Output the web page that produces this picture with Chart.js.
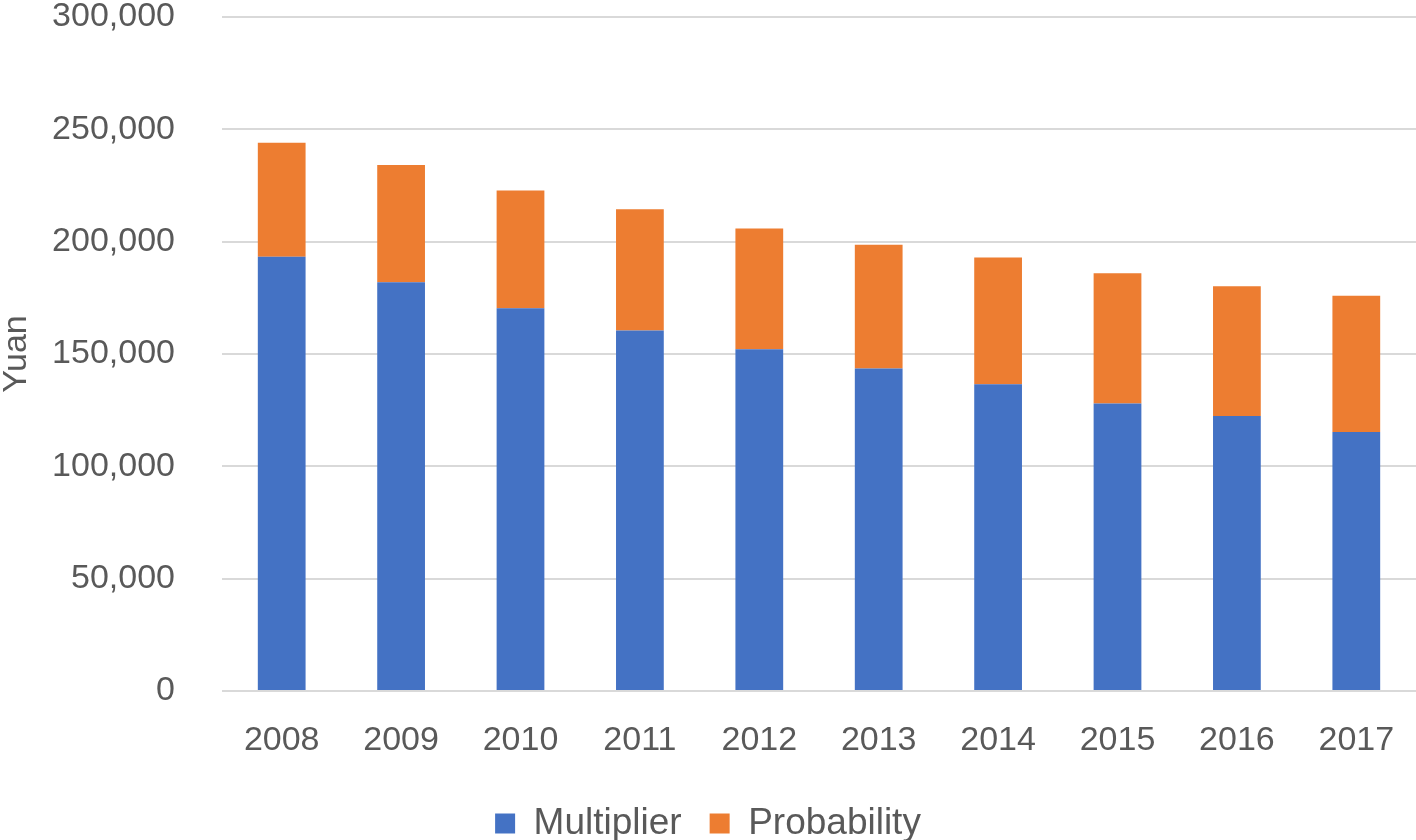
<!DOCTYPE html>
<html>
<head>
<meta charset="utf-8">
<script src="https://cdn.jsdelivr.net/npm/chart.js@4/dist/chart.umd.min.js"></script>
<style>
  html, body { margin: 0; padding: 0; background: #ffffff; }
  #wrap { width: 1416px; height: 840px; position: relative; }
</style>
</head>
<body>
<div id="wrap"><canvas id="c"></canvas></div>
<script>
const years = ['2008', '2009', '2010', '2011', '2012', '2013', '2014', '2015', '2016', '2017'];
const multiplier = [193300, 181900, 170400, 160500, 152100, 143600, 136500, 128000, 122400, 115300];
const probability = [50700, 52200, 52400, 53900, 53800, 55000, 56500, 57900, 57800, 60600];
const seriesNames = ['Multiplier', 'Probability'];
const yMin = 0, yMax = 300000, yStep = 50000;
const axisTitle = 'Yuan';

const textColor = '#595959';
const fontFamily = "'Liberation Sans', Arial, sans-serif";

new Chart(document.getElementById('c'), {
  type: 'bar',
  data: {
    labels: years,
    datasets: [
      { label: seriesNames[0], data: multiplier, backgroundColor: '#4472C4', borderWidth: 0 },
      { label: seriesNames[1], data: probability, backgroundColor: '#ED7D31', borderWidth: 0 }
    ]
  },
  options: {
    responsive: true,
    maintainAspectRatio: false,
    animation: false,
    devicePixelRatio: 1,
    layout: { padding: { left: 0, right: 0, top: 0, bottom: -12 } },
    datasets: { bar: { barPercentage: 0.4, categoryPercentage: 1.0 } },
    plugins: {
      tooltip: { enabled: false },
      legend: {
        position: 'bottom',
        align: 'center',
        labels: {
          color: textColor,
          font: { family: fontFamily, size: 37 },
          boxWidth: 20,
          boxHeight: 20,
          padding: 28
        }
      }
    },
    scales: {
      x: {
        stacked: true,
        grid: { display: true, drawOnChartArea: false, drawTicks: true, tickLength: 29, color: 'rgba(0,0,0,0)', tickColor: 'rgba(0,0,0,0)' },
        border: { display: false },
        ticks: {
          color: textColor,
          font: { family: fontFamily, size: 34 },
          padding: 0,
          maxRotation: 0
        },
        afterFit: (s) => { s.height = 86; }
      },
      y: {
        stacked: true,
        min: yMin,
        max: yMax,
        grid: { color: '#d9d9d9', lineWidth: 2, drawTicks: true, tickLength: 47, tickColor: 'rgba(0,0,0,0)' },
        border: { display: false },
        ticks: {
          stepSize: yStep,
          color: textColor,
          font: { family: fontFamily, size: 34, lineHeight: 1.0 },
          padding: 0,
          callback: (v) => Number(v).toLocaleString('en-US')
        },
        title: {
          display: true,
          text: axisTitle,
          color: textColor,
          font: { family: fontFamily, size: 34, lineHeight: 1.0 },
          padding: 0
        },
        afterFit: (s) => { s.width = 222; }
      }
    }
  }
});
</script>
</body>
</html>
